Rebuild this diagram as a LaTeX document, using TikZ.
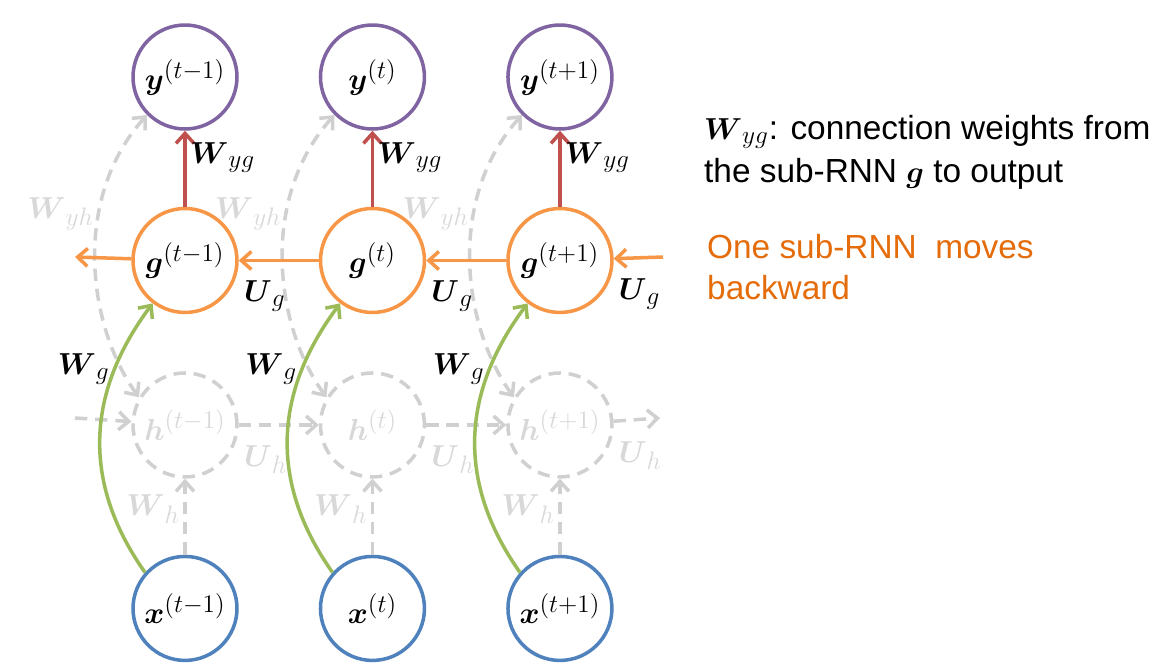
\documentclass[tikz,border=0pt]{standalone}
\usepackage{amsmath}
\usepackage{fontspec}
\setmainfont{Liberation Sans}
\usetikzlibrary{arrows.meta, positioning}
\definecolor{ypurple}{RGB}{128,100,162}
\definecolor{gorange}{RGB}{247,150,70}
\definecolor{xblue}{RGB}{79,129,189}
\definecolor{wred}{RGB}{192,80,77}
\definecolor{wgreen}{RGB}{155,187,89}
\definecolor{ghost}{RGB}{208,208,208}
\definecolor{ghosttext}{RGB}{216,216,216}
\definecolor{txtorange}{RGB}{228,108,10}
\tikzset{
  unit/.style     = {circle, draw, line width=2pt, minimum size=2.08cm,
                     inner sep=0pt, font=\fontsize{19}{22}\selectfont},
  yunit/.style    = {unit, draw=ypurple},
  gunit/.style    = {unit, draw=gorange},
  hunit/.style    = {unit, draw=ghost, dash pattern=on 7pt off 4.5pt, text=ghosttext},
  xunit/.style    = {unit, draw=xblue},
  arr/.style      = {-{Straight Barb[length=0.2cm, width=0.36cm]}, line width=2pt},
  wyg/.style      = {arr, draw=wred},
  ug/.style       = {arr, draw=gorange},
  wg/.style       = {arr, draw=wgreen},
  ghostarr/.style = {arr, draw=ghost, dash pattern=on 7pt off 4.5pt},
  lbl/.style      = {font=\fontsize{19}{21}\selectfont, inner sep=2pt},
  glbl/.style     = {lbl, text=ghosttext},
  ulbl/.style     = {lbl, pos=1, anchor=north west, yshift=-0.3cm}
}

\begin{document}
\begin{tikzpicture}[x=0.02cm, y=-0.02cm, node distance=1.52cm and 1.6cm]
  \useasboundingbox (0,0) rectangle (1171,667);
  % outputs
  \node[yunit] (y1) at (185,77) {$\boldsymbol{y}^{(t-1)}$};
  \node[yunit, right=of y1] (y2) {$\boldsymbol{y}^{(t)}$};
  \node[yunit, right=of y2] (y3) {$\boldsymbol{y}^{(t+1)}$};
  % backward sub-RNN
  \node[gunit, below=of y1] (g1) {$\boldsymbol{g}^{(t-1)}$};
  \node[gunit, below=of y2] (g2) {$\boldsymbol{g}^{(t)}$};
  \node[gunit, below=of y3] (g3) {$\boldsymbol{g}^{(t+1)}$};
  % forward sub-RNN, faded
  \node[hunit, below=1.14cm of g1] (h1) {$\boldsymbol{h}^{(t-1)}$};
  \node[hunit, below=1.14cm of g2] (h2) {$\boldsymbol{h}^{(t)}$};
  \node[hunit, below=1.14cm of g3] (h3) {$\boldsymbol{h}^{(t+1)}$};
  % inputs
  \node[xunit, below=of h1] (x1) {$\boldsymbol{x}^{(t-1)}$};
  \node[xunit, below=of h2] (x2) {$\boldsymbol{x}^{(t)}$};
  \node[xunit, below=of h3] (x3) {$\boldsymbol{x}^{(t+1)}$};
  \coordinate (gin)  at (663,257);
  \coordinate (gout) at (75,257);
  \coordinate (hin)  at (75,418);
  \coordinate (hout) at (660,418);

  % faded forward connections
  \draw[ghostarr] (hin) -- (h1);
  \draw[ghostarr] (h1) -- node[glbl, pos=0, anchor=north west, yshift=-0.3cm] {$\boldsymbol{U}_h$} (h2);
  \draw[ghostarr] (h2) -- node[glbl, pos=0, anchor=north west, yshift=-0.3cm] {$\boldsymbol{U}_h$} (h3);
  \draw[ghostarr] (h3) -- node[glbl, pos=0, anchor=north west, yshift=-0.3cm] {$\boldsymbol{U}_h$} (hout);
  \draw[ghostarr] (x1) -- node[glbl, left, pos=0.6] {$\boldsymbol{W}_h$} (h1);
  \draw[ghostarr] (x2) -- node[glbl, left, pos=0.6] {$\boldsymbol{W}_h$} (h2);
  \draw[ghostarr] (x3) -- node[glbl, left, pos=0.6] {$\boldsymbol{W}_h$} (h3);
  \draw[ghostarr, {Straight Barb[length=0.2cm, width=0.36cm]}-{Straight Barb[length=0.2cm, width=0.36cm]}]
    (h1.149) .. controls +(-52,-72) and +(-75,83) .. node[glbl, left, pos=0.65] {$\boldsymbol{W}_{yh}$} (y1.225);
  \draw[ghostarr, {Straight Barb[length=0.2cm, width=0.36cm]}-{Straight Barb[length=0.2cm, width=0.36cm]}]
    (h2.149) .. controls +(-52,-72) and +(-75,83) .. node[glbl, left, pos=0.65] {$\boldsymbol{W}_{yh}$} (y2.225);
  \draw[ghostarr, {Straight Barb[length=0.2cm, width=0.36cm]}-{Straight Barb[length=0.2cm, width=0.36cm]}]
    (h3.149) .. controls +(-52,-72) and +(-75,83) .. node[glbl, left, pos=0.65] {$\boldsymbol{W}_{yh}$} (y3.225);

  % backward recurrence
  \draw[ug] (gin) -- node[ulbl] {$\boldsymbol{U}_g$} (g3);
  \draw[ug] (g3) -- node[ulbl] {$\boldsymbol{U}_g$} (g2);
  \draw[ug] (g2) -- node[ulbl] {$\boldsymbol{U}_g$} (g1);
  \draw[ug] (g1) -- (gout);

  % input to g, g to output
  \draw[wg] (x1.138) .. controls +(-65,-92) and +(-65,87) .. node[lbl, left, pos=0.75] {$\boldsymbol{W}_g$} (g1.233);
  \draw[wg] (x2.138) .. controls +(-65,-92) and +(-65,87) .. node[lbl, left, pos=0.75] {$\boldsymbol{W}_g$} (g2.233);
  \draw[wg] (x3.138) .. controls +(-65,-92) and +(-65,87) .. node[lbl, left, pos=0.75] {$\boldsymbol{W}_g$} (g3.233);
  \draw[wyg] (g1) -- node[lbl, right, pos=0.65] {$\boldsymbol{W}_{yg}$} (y1);
  \draw[wyg] (g2) -- node[lbl, right, pos=0.65] {$\boldsymbol{W}_{yg}$} (y2);
  \draw[wyg] (g3) -- node[lbl, right, pos=0.65] {$\boldsymbol{W}_{yg}$} (y3);

  % notes
  \node[anchor=west, align=left, font=\fontsize{19}{24.5}\selectfont] (note) at (698,152)
    {$\boldsymbol{W}_{yg}$: connection weights from\\the sub-RNN $\boldsymbol{g}$ to output};
  \node[anchor=west, align=left, text=txtorange, font=\fontsize{19}{23}\selectfont] (dir) at (701,267)
    {One sub-RNN\ \ moves\\backward};
\end{tikzpicture}
\end{document}
